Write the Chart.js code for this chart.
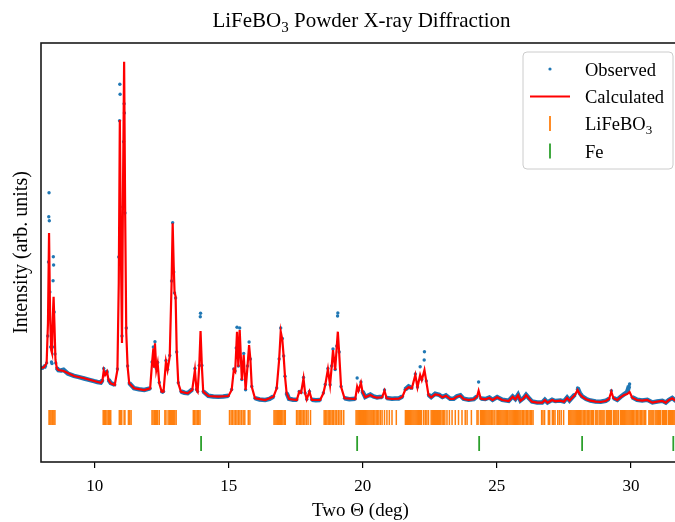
<!DOCTYPE html>
<html>
<head>
<meta charset="utf-8">
<script src="https://cdn.jsdelivr.net/npm/chart.js@4.4.0/dist/chart.umd.min.js"></script>
<style>
  html, body { margin: 0; padding: 0; background: #fff; overflow: hidden; }
  #wrap { width: 675px; height: 522px; overflow: hidden; }
  canvas { display: block; }
</style>
</head>
<body>
<div id="wrap"><canvas id="xrd" width="690" height="522"></canvas></div>
<script>
// Calculated (refined) profile
const calcTwoTheta = [
  8.00, 8.11, 8.21, 8.26, 8.30, 8.34, 8.38, 8.41, 8.44, 8.47, 8.50, 8.54, 8.59, 8.65, 8.84, 9.23, 9.61, 9.98,
  10.23, 10.29, 10.34, 10.39, 10.46, 10.52, 10.60, 10.75, 10.85, 10.90, 10.94, 10.98, 11.02, 11.06, 11.10, 11.14,
  11.18, 11.23, 11.29, 11.47, 11.85, 12.07, 12.14, 12.19, 12.22, 12.25, 12.30, 12.35, 12.41, 12.50, 12.57, 12.66,
  12.72, 12.80, 12.87, 12.91, 12.95, 12.98, 13.02, 13.06, 13.12, 13.22, 13.47, 13.64, 13.74, 13.80, 13.84, 13.90,
  13.95, 14.00, 14.05, 14.24, 14.61, 14.99, 15.11, 15.19, 15.24, 15.28, 15.31, 15.36, 15.41, 15.49, 15.56, 15.63,
  15.70, 15.76, 15.81, 15.86, 15.98, 16.36, 16.67, 16.79, 16.88, 16.94, 17.00, 17.05, 17.10, 17.16, 17.25, 17.54,
  17.63, 17.70, 17.79, 17.85, 17.91, 18.01, 18.10, 18.41, 18.53, 18.60, 18.70, 18.78, 18.84, 18.89, 18.97, 19.03,
  19.07, 19.12, 19.19, 19.32, 19.72, 19.79, 19.84, 19.93, 19.99, 20.09, 20.28, 20.40, 20.53, 20.72, 20.81, 20.89,
  21.09, 21.34, 21.48, 21.58, 21.71, 21.83, 21.96, 22.04, 22.14, 22.20, 22.30, 22.37, 22.45, 22.55, 22.70, 22.85,
  22.97, 23.10, 23.26, 23.39, 23.51, 23.64, 23.76, 23.95, 24.14, 24.26, 24.32, 24.40, 24.57, 24.72, 24.84, 25.01,
  25.20, 25.44, 25.59, 25.69, 25.79, 25.88, 26.00, 26.09, 26.19, 26.31, 26.50, 26.69, 26.79, 26.89, 27.06, 27.18,
  27.37, 27.50, 27.62, 27.71, 27.79, 27.91, 28.01, 28.09, 28.18, 28.33, 28.49, 28.68, 28.87, 29.06, 29.18, 29.27,
  29.35, 29.49, 29.61, 29.74, 29.86, 29.95, 30.05, 30.23, 30.42, 30.61, 30.80, 30.98, 31.17, 31.30, 31.42, 31.54,
  31.66, 31.85
];
const calcIntensity = [
  940, 947, 990, 1390, 2290, 1453, 1120, 1090, 1453, 1653, 1390, 1020, 937, 920, 910, 860, 837, 810,
  793, 810, 913, 870, 903, 820, 787, 770, 920, 1790, 3420, 2120, 1190, 2790, 4003, 2453,
  1290, 953, 787, 737, 720, 737, 987, 1137, 953, 1187, 920, 987, 787, 703, 703, 1003,
  920, 1053, 1787, 2387, 1953, 1703, 1653, 1120, 787, 703, 687, 720, 920, 720, 703, 953,
  1310, 953, 703, 660, 653, 660, 720, 920, 903, 1120, 1303, 953, 1320, 820, 1070, 720,
  953, 1170, 1020, 753, 637, 620, 653, 737, 1020, 1303, 1220, 1053, 853, 687, 630, 620,
  703, 693, 837, 687, 627, 703, 620, 620, 687, 770, 927, 770, 953, 1120, 920, 1153,
  1303, 1087, 753, 637, 630, 753, 713, 793, 703, 647, 670, 653, 643, 647, 713, 637,
  630, 633, 653, 720, 747, 737, 870, 747, 870, 820, 920, 803, 670, 647, 677, 670,
  647, 663, 630, 630, 653, 663, 630, 620, 627, 653, 713, 633, 627, 640, 620, 647,
  620, 610, 653, 627, 667, 613, 637, 667, 637, 603, 593, 593, 620, 593, 620, 607,
  613, 603, 640, 613, 637, 670, 720, 680, 653, 627, 613, 603, 600, 610, 630, 703,
  637, 620, 647, 670, 680, 700, 643, 620, 613, 620, 593, 603, 610, 593, 620, 637,
  613, 610
];

// Observed pattern
const obsTwoTheta = [
  8.00, 8.06, 8.11, 8.17, 8.21, 8.25, 8.28, 8.29, 8.30, 8.31, 8.33, 8.36, 8.39, 8.41, 8.43, 8.45, 8.46, 8.47,
  8.49, 8.52, 8.55, 8.59, 8.65, 8.75, 8.84, 9.00, 9.23, 9.42, 9.61, 9.80, 9.98, 10.10, 10.23, 10.29, 10.34, 10.39,
  10.46, 10.52, 10.60, 10.75, 10.85, 10.90, 10.93, 10.94, 10.95, 10.98, 11.02, 11.06, 11.08, 11.10, 11.11, 11.13,
  11.18, 11.23, 11.29, 11.47, 11.65, 11.85, 12.07, 12.14, 12.19, 12.22, 12.25, 12.30, 12.35, 12.41, 12.50, 12.57,
  12.66, 12.72, 12.80, 12.87, 12.91, 12.95, 12.98, 13.02, 13.06, 13.12, 13.22, 13.35, 13.47, 13.64, 13.74, 13.80,
  13.84, 13.90, 13.94, 13.95, 14.00, 14.05, 14.24, 14.42, 14.61, 14.80, 14.99, 15.11, 15.19, 15.24, 15.28, 15.31,
  15.36, 15.41, 15.49, 15.56, 15.63, 15.70, 15.76, 15.81, 15.86, 15.98, 16.15, 16.36, 16.52, 16.67, 16.79, 16.88,
  16.94, 17.00, 17.05, 17.10, 17.16, 17.25, 17.40, 17.54, 17.63, 17.70, 17.79, 17.85, 17.91, 18.01, 18.10, 18.25,
  18.41, 18.53, 18.60, 18.70, 18.78, 18.84, 18.89, 18.97, 19.03, 19.06, 19.07, 19.12, 19.19, 19.32, 19.50, 19.72,
  19.79, 19.84, 19.93, 19.99, 20.09, 20.28, 20.40, 20.53, 20.62, 20.72, 20.81, 20.89, 21.09, 21.20, 21.34, 21.48,
  21.58, 21.71, 21.83, 21.96, 22.04, 22.14, 22.20, 22.29, 22.30, 22.37, 22.45, 22.55, 22.70, 22.85, 22.97, 23.10,
  23.26, 23.39, 23.51, 23.64, 23.76, 23.95, 24.14, 24.26, 24.32, 24.40, 24.57, 24.72, 24.84, 25.01, 25.20, 25.44,
  25.59, 25.69, 25.79, 25.88, 26.00, 26.09, 26.19, 26.31, 26.50, 26.69, 26.79, 26.89, 27.06, 27.18, 27.37, 27.50,
  27.62, 27.71, 27.79, 27.91, 28.01, 28.09, 28.18, 28.33, 28.49, 28.68, 28.87, 29.06, 29.18, 29.27, 29.35, 29.49,
  29.61, 29.74, 29.86, 29.93, 29.95, 30.05, 30.23, 30.42, 30.61, 30.80, 30.98, 31.17, 31.30, 31.42, 31.54, 31.66,
  31.85
];
const obsIntensity = [
  945, 938, 950, 960, 990, 1260, 2000, 2453, 2693, 2413, 1700, 1150, 1000, 985, 1150, 1813, 2053, 1970,
  1500, 1080, 990, 940, 918, 915, 922, 885, 862, 848, 835, 822, 808, 800, 795, 818, 935, 878,
  908, 822, 790, 772, 930, 2050, 3413, 3777, 3677, 2350, 1260, 2550, 3203, 3583, 3490, 2490,
  1340, 960, 790, 738, 728, 720, 736, 1000, 1150, 960, 1203, 935, 995, 795, 702, 706,
  1015, 928, 1065, 1810, 2393, 1900, 1690, 1640, 1100, 792, 705, 693, 688, 725, 935, 725,
  706, 965, 1453, 1487, 965, 706, 662, 655, 652, 656, 662, 725, 930, 910, 1140, 1347,
  960, 1340, 825, 1085, 722, 960, 1200, 1030, 756, 638, 625, 620, 630, 655, 740, 1030,
  1340, 1235, 1060, 858, 690, 632, 622, 622, 706, 696, 845, 690, 628, 706, 622, 618,
  620, 690, 775, 935, 772, 960, 1130, 925, 1160, 1460, 1490, 1100, 756, 638, 628, 632,
  840, 718, 800, 706, 650, 675, 655, 645, 650, 650, 720, 640, 632, 635, 635, 655,
  725, 755, 740, 880, 750, 953, 825, 1020, 1103, 810, 672, 650, 682, 672, 650, 666,
  632, 632, 656, 666, 632, 622, 628, 656, 800, 636, 630, 645, 622, 650, 622, 612,
  656, 630, 672, 615, 640, 672, 640, 605, 595, 595, 622, 595, 622, 610, 615, 605,
  645, 615, 640, 676, 740, 690, 656, 630, 615, 605, 602, 612, 632, 712, 640, 622,
  650, 676, 700, 760, 780, 648, 622, 615, 622, 595, 605, 612, 595, 622, 640, 615,
  612
];

// Reflection positions (deg 2θ)
const lifeboTicks = [
  8.30, 8.33, 8.37, 8.41, 8.44, 8.48, 8.52,
  10.32, 10.36, 10.41, 10.46, 10.51, 10.56, 10.60,
  10.92, 10.96, 11.01, 11.10, 11.13, 11.26, 11.31, 11.36,
  12.14, 12.18, 12.23, 12.27, 12.31, 12.35, 12.41,
  12.62, 12.66, 12.74, 12.79, 12.83, 12.87, 12.91, 12.95, 12.99, 13.04,
  13.68, 13.73, 13.78, 13.83, 13.88, 13.93,
  15.03, 15.09, 15.14, 15.20, 15.26, 15.31, 15.37, 15.42, 15.48, 15.54, 15.60, 15.73, 15.79,
  16.69, 16.73, 16.77, 16.81, 16.85, 16.89, 16.93, 16.97, 17.02, 17.07, 17.11,
  17.53, 17.58, 17.63, 17.68, 17.73, 17.78, 17.84, 17.90, 17.96, 18.05,
  18.56, 18.61, 18.66, 18.71, 18.76, 18.81, 18.86, 18.91, 18.97, 19.03, 19.09, 19.15, 19.21, 19.29,
  19.75, 19.79, 19.83, 19.87, 19.91, 19.95, 19.99, 20.03, 20.07, 20.11, 20.15, 20.19, 20.23, 20.27,
  20.31, 20.35, 20.40, 20.45, 20.50, 20.55, 20.60, 20.66, 20.72, 20.81, 20.90, 20.99, 21.09, 21.25,
  21.59, 21.63, 21.67, 21.71, 21.75, 21.79, 21.83, 21.87, 21.91, 21.95, 21.99, 22.03, 22.07, 22.11,
  22.15, 22.19, 22.27, 22.33, 22.39, 22.45,
  22.55, 22.59, 22.63, 22.67, 22.71, 22.75, 22.79, 22.83, 22.87, 22.91, 22.96, 23.01, 23.06, 23.14,
  23.23, 23.33, 23.45, 23.57, 23.70, 23.82, 23.89, 24.05,
  24.26, 24.30, 24.39, 24.43, 24.47, 24.51, 24.55, 24.59, 24.63, 24.67, 24.71, 24.75, 24.80, 24.85,
  24.90, 24.97, 25.02, 25.07, 25.11, 25.15, 25.19, 25.23, 25.27, 25.31, 25.35, 25.40, 25.45, 25.49,
  25.53, 25.57, 25.61, 25.65, 25.69, 25.74, 25.78, 25.82, 25.86, 25.90, 25.95, 26.00, 26.05, 26.10,
  26.15, 26.20, 26.25, 26.30, 26.35,
  26.67, 26.72, 26.78, 26.92, 26.97, 27.07, 27.12, 27.17, 27.27, 27.33, 27.40, 27.49,
  27.68, 27.72, 27.76, 27.80, 27.84, 27.88, 27.92, 27.96, 28.00, 28.04, 28.08, 28.12, 28.17, 28.22,
  28.27, 28.32, 28.37, 28.42, 28.47, 28.52, 28.57, 28.61,
  28.69, 28.73, 28.77, 28.84, 28.88, 28.92, 28.96, 29.00, 29.08, 29.12, 29.16, 29.20, 29.24, 29.28,
  29.36, 29.40, 29.44, 29.48, 29.53,
  29.61, 29.65, 29.69, 29.73, 29.77, 29.81, 29.85, 29.89, 29.93, 29.97, 30.01, 30.05, 30.10, 30.15,
  30.20, 30.25, 30.30, 30.35, 30.40, 30.45, 30.50, 30.55,
  30.67, 30.71, 30.75, 30.79, 30.83, 30.90, 30.94, 30.98, 31.02, 31.06, 31.10, 31.17, 31.21, 31.25,
  31.29, 31.33, 31.40, 31.44, 31.48, 31.52, 31.56, 31.60, 31.64, 31.68, 31.72, 31.76
];
const feTicks = [13.97, 19.79, 24.34, 28.18, 31.58];

const xTickValues = [10, 15, 20, 25, 30];
const seriesLabels = ['Observed', 'Calculated', 'LiFeBO', 'Fe'];

const SERIF = "'Liberation Serif', 'Times New Roman', 'DejaVu Serif', serif";
const X_MIN = 8.0, X_MAX = 31.83;
const Y_MIN = 0, Y_MAX = 4190;
const LIFEBO_ROW = 445;   // where the phase tick rows sit (same units as intensity)
const FE_ROW = 185;
const OBS_BLUE = '#1f77b4';

const toXY = (xs, ys) => xs.map((x, i) => ({ x, y: ys[i] }));

// text with a "3" subscript drawn after a base string
function drawSubText(ctx, parts, x, y, size, align) {
  const sub = Math.round(size * 0.7);
  let total = 0;
  const widths = parts.map(p => {
    ctx.font = `${p.sub ? sub : size}px ${SERIF}`;
    const w = ctx.measureText(p.t).width;
    total += w;
    return w;
  });
  let cx = align === 'center' ? x - total / 2 : x;
  ctx.textAlign = 'left';
  ctx.textBaseline = 'alphabetic';
  parts.forEach((p, i) => {
    ctx.font = `${p.sub ? sub : size}px ${SERIF}`;
    ctx.fillText(p.t, cx, p.sub ? y + size * 0.22 : y);
    cx += widths[i];
  });
}

const decor = {
  id: 'decor',
  afterDraw(chart) {
    const { ctx, chartArea: a } = chart;
    ctx.save();
    // axes frame
    ctx.strokeStyle = '#1a1a1a';
    ctx.lineWidth = 1.6;
    ctx.strokeRect(a.left, a.top, a.right - a.left, a.bottom - a.top);

    // title
    ctx.fillStyle = '#000';
    drawSubText(ctx, [{ t: 'LiFeBO' }, { t: '3', sub: true }, { t: ' Powder X-ray Diffraction' }],
      (a.left + a.right) / 2 + 1, 27, 21, 'center');

    // legend
    const bx = 523, by = 52, bw = 150, bh = 117;
    ctx.beginPath();
    ctx.roundRect(bx, by, bw, bh, 4);
    ctx.fillStyle = 'rgba(255,255,255,0.85)';
    ctx.fill();
    ctx.strokeStyle = '#cccccc';
    ctx.lineWidth = 1;
    ctx.stroke();

    const rows = [69, 96.5, 123.5, 151];
    const hx = 550, tx = 585, fs = 18.5;
    // Observed marker
    ctx.fillStyle = OBS_BLUE;
    ctx.beginPath();
    ctx.arc(hx, rows[0], 1.6, 0, Math.PI * 2);
    ctx.fill();
    // Calculated line
    ctx.strokeStyle = '#ff0000';
    ctx.lineWidth = 2;
    ctx.beginPath();
    ctx.moveTo(530, rows[1]); ctx.lineTo(570, rows[1]);
    ctx.stroke();
    // phase ticks
    ctx.lineWidth = 1.8;
    ctx.strokeStyle = '#ff7f0e';
    ctx.beginPath();
    ctx.moveTo(hx, rows[2] - 7.5); ctx.lineTo(hx, rows[2] + 7.5);
    ctx.stroke();
    ctx.strokeStyle = '#2ca02c';
    ctx.beginPath();
    ctx.moveTo(hx, rows[3] - 7.5); ctx.lineTo(hx, rows[3] + 7.5);
    ctx.stroke();

    ctx.fillStyle = '#000';
    drawSubText(ctx, [{ t: seriesLabels[0] }], tx, rows[0] + 6.5, fs, 'left');
    drawSubText(ctx, [{ t: seriesLabels[1] }], tx, rows[1] + 6.5, fs, 'left');
    drawSubText(ctx, [{ t: seriesLabels[2] }, { t: '3', sub: true }], tx, rows[2] + 6.5, fs, 'left');
    drawSubText(ctx, [{ t: seriesLabels[3] }], tx, rows[3] + 6.5, fs, 'left');
    ctx.restore();
  }
};

const canvas = document.getElementById('xrd');
new Chart(canvas.getContext('2d'), {
  type: 'scatter',
  data: {
    datasets: [
      {
        label: 'Calculated',
        data: toXY(calcTwoTheta, calcIntensity),
        showLine: true,
        borderColor: '#ff0000',
        borderWidth: 2.2,
        pointRadius: 0,
        tension: 0
      },
      {
        label: 'Observed',
        data: toXY(obsTwoTheta, obsIntensity),
        showLine: true,
        borderColor: OBS_BLUE,
        borderWidth: 4.5,
        // dense dots read as a band along the flat parts; steep flanks and peak tops only show the dots
        segment: {
          borderColor: c => {
            const dy = Math.abs(c.p1.y - c.p0.y), dx = Math.abs(c.p1.x - c.p0.x);
            return (dx < 1.5 || dy > Math.max(6, 1.2 * dx)) ? 'rgba(0,0,0,0)' : OBS_BLUE;
          }
        },
        pointRadius: 1.7,
        pointBackgroundColor: OBS_BLUE,
        pointBorderWidth: 0,
        tension: 0
      },
      {
        label: 'LiFeBO3',
        data: lifeboTicks.map(v => ({ x: v, y: LIFEBO_ROW })),
        pointStyle: 'line',
        pointRotation: 90,
        pointRadius: 7.5,
        pointBorderColor: '#ff7f0e',
        pointBorderWidth: 1.5,
        borderColor: '#ff7f0e'
      },
      {
        label: 'Fe',
        data: feTicks.map(v => ({ x: v, y: FE_ROW })),
        pointStyle: 'line',
        pointRotation: 90,
        pointRadius: 7.5,
        pointBorderColor: '#2ca02c',
        pointBorderWidth: 1.8,
        borderColor: '#2ca02c'
      }
    ]
  },
  options: {
    responsive: false,
    animation: false,
    events: [],
    layout: { padding: { top: 43, right: 10, left: 0, bottom: 0 } },
    plugins: {
      legend: { display: false },
      tooltip: { enabled: false },
      title: { display: false }
    },
    scales: {
      x: {
        type: 'linear',
        min: X_MIN,
        max: X_MAX,
        afterBuildTicks: s => { s.ticks = xTickValues.map(v => ({ value: v })); },
        afterFit: s => { s.height = 60; },
        border: { display: false },
        grid: { drawOnChartArea: false, drawTicks: true, tickLength: 6, color: '#000', lineWidth: 1.2 },
        ticks: { color: '#000', font: { family: SERIF, size: 17 }, padding: 8, maxRotation: 0 },
        title: {
          display: true, text: 'Two Θ (deg)', color: '#000',
          font: { family: SERIF, size: 19 }, padding: { top: 0, bottom: 0 }
        }
      },
      y: {
        type: 'linear',
        min: Y_MIN,
        max: Y_MAX,
        afterFit: s => { s.width = 41; },
        border: { display: false },
        grid: { display: false },
        ticks: { display: false },
        title: {
          display: true, text: 'Intensity (arb. units)', color: '#000',
          font: { family: SERIF, size: 20 }, padding: { top: 10, bottom: 0 }
        }
      }
    }
  },
  plugins: [decor]
});
</script>
</body>
</html>
